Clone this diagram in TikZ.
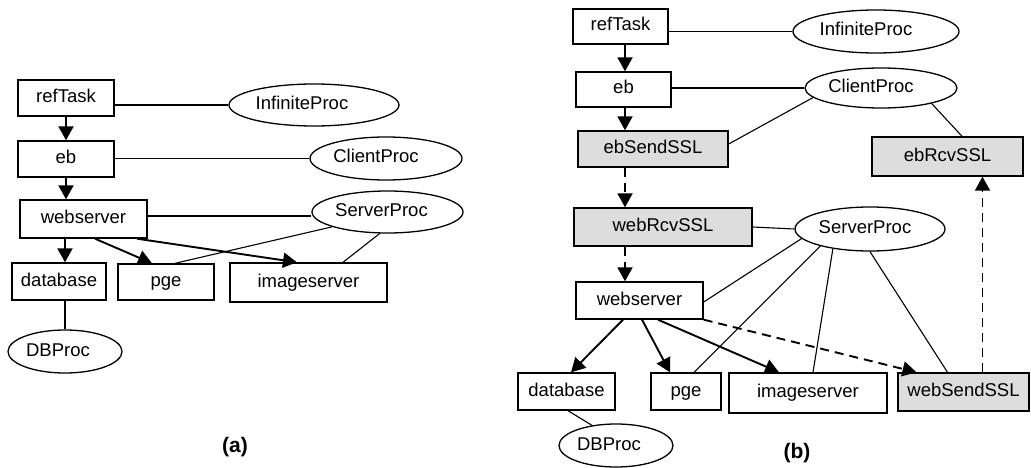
\documentclass[tikz,border=0pt]{standalone}
\usepackage{fontspec}
\setmainfont{Liberation Sans}
\usetikzlibrary{shapes.geometric,arrows.meta}
\definecolor{sslgray}{HTML}{DDDDDD}

\begin{document}
\begin{tikzpicture}[
  x=1pt, y=-1pt,
  label font/.style={font=\fontsize{18.5}{22}\selectfont, text height=13pt, text depth=4pt},
  taskbox/.style={draw, line width=1.4pt, inner sep=0pt, label font},
  sslbox/.style={taskbox, fill=sslgray},
  proc/.style={draw, ellipse, line width=1.3pt, inner sep=0pt, label font},
  link/.style={line width=1.1pt},
  flow/.style={line width=1.9pt, -{Triangle[length=14pt,width=15pt]}},
  sslflow/.style={flow, dash pattern=on 9pt off 6pt},
  caption/.style={font=\bfseries\fontsize{21}{24}\selectfont, inner sep=0pt}
]
\fill[white] (0,0) rectangle (1031,468);
\useasboundingbox (0,0) rectangle (1031,468);

% ---------- (a) plain layered model ----------
\node[taskbox, minimum width=96, minimum height=36] (refTaskA) at (66,98) {refTask};
\node[taskbox, minimum width=96, minimum height=36] (ebA) at (66,159) {eb};
\node[taskbox, minimum width=127, minimum height=38] (webA) at (83.5,219) {webserver};
\node[taskbox, minimum width=94, minimum height=37] (dbA) at (59,281.5) {database};
\node[taskbox, minimum width=96, minimum height=36] (pgeA) at (166,282) {pge};
\node[taskbox, minimum width=157, minimum height=39] (imgA) at (308.5,282.5) {imageserver};

\node[proc, minimum width=170, minimum height=42] (InfA) at (314,105) {InfiniteProc\hspace*{24pt}};
\node[proc, minimum width=152, minimum height=43] (CliA) at (386,158.5) {ClientProc\hspace*{20pt}};
\node[proc, minimum width=151, minimum height=42] (SrvA) at (387.5,212) {ServerProc\hspace*{12pt}};
\node[proc, minimum width=114, minimum height=43] (DBA) at (65,351.5) {DBProc\hspace*{14pt}};

\draw[link] (InfA.west) -- (InfA.west -| refTaskA.east);
\draw[link] (CliA.west) -- (CliA.west -| ebA.east);
\draw[link] ([yshift=-4pt]SrvA.west) -- ([yshift=-4pt]SrvA.west -| webA.east);
\draw[link] (SrvA.195) -- ([xshift=9pt]pgeA.north);
\draw[link] (SrvA.250) -- ([xshift=34.5pt]imgA.north);
\draw[link] (dbA.south -| DBA.north) -- (DBA.north);

\draw[flow] (refTaskA.south) -- (ebA.north);
\draw[flow] (ebA.south) -- (ebA.south |- webA.north);
\draw[flow] ([xshift=6pt]dbA.north |- webA.south) -- ([xshift=6pt]dbA.north);
\draw[flow] ([xshift=11.5pt]webA.south) -- ([xshift=-14pt]pgeA.north);
\draw[flow] ([xshift=53.5pt]webA.south) -- ([xshift=-11.5pt]imgA.north);

\node[caption] (capA) at (235,447) {(a)};

% ---------- (b) model with SSL tasks ----------
\node[taskbox, minimum width=95, minimum height=35] (refTaskB) at (620.5,26.5) {refTask};
\node[taskbox, minimum width=95, minimum height=35] (ebB) at (623.5,89.5) {eb};
\node[sslbox, minimum width=150, minimum height=36] (ebSendB) at (653,149) {ebSendSSL};
\node[sslbox, minimum width=178, minimum height=38] (webRcvB) at (663,227) {webRcvSSL};
\node[taskbox, minimum width=127, minimum height=37] (webB) at (639.5,300.5) {webserver};
\node[taskbox, minimum width=97, minimum height=37] (dbB) at (566.5,391.5) {database};
\node[taskbox, minimum width=70, minimum height=37] (pgeB) at (686,391.5) {pge};
\node[taskbox, minimum width=158, minimum height=40] (imgB) at (808,393) {imageserver};
\node[sslbox, minimum width=131, minimum height=38] (webSendB) at (963.5,392) {webSendSSL};
\node[sslbox, minimum width=151, minimum height=39] (ebRcvB) at (947.5,156.5) {ebRcvSSL};

\node[proc, minimum width=166, minimum height=43] (InfB) at (876,31.5) {InfiniteProc\hspace*{20pt}};
\node[proc, minimum width=152, minimum height=40] (CliB) at (881,88) {ClientProc\hspace*{20pt}};
\node[proc, minimum width=150, minimum height=44] (SrvB) at (870,229) {ServerProc\hspace*{10pt}};
\node[proc, minimum width=114, minimum height=43] (DBB) at (616,445.5) {DBProc\hspace*{14pt}};

\draw[link] (InfB.west) -- (InfB.west -| refTaskB.east);
\draw[link] (CliB.west) -- (CliB.west -| ebB.east);
\draw[link] ([yshift=5pt]ebSendB.east) -- (CliB.188);
\draw[link] (CliB.343) -- ([xshift=14.5pt]ebRcvB.north);
\draw[link] (webRcvB.east) -- (SrvB.west);
\draw[link] (SrvB.188) -- ([yshift=-1.5pt]webB.east);
\draw[link] (SrvB.199) -- ([xshift=8pt]pgeB.north);
\draw[link] (SrvB.208) -- ([xshift=5pt]imgB.north);
\draw[link] (SrvB.south) -- ([xshift=-16pt]webSendB.north);
\draw[link] ([xshift=1.5pt]dbB.south) -- (DBB.140);

\draw[flow] ([xshift=4.5pt]refTaskB.south) -- ([xshift=4.5pt]refTaskB.south |- ebB.north);
\draw[flow] ([xshift=1.5pt]ebB.south) -- ([xshift=1.5pt]ebB.south |- ebSendB.north);
\draw[sslflow] ([xshift=-28pt]ebSendB.south) -- ([xshift=-28pt]ebSendB.south |- webRcvB.north);
\draw[sslflow] ([xshift=-38pt]webRcvB.south) -- ([xshift=-38pt]webRcvB.south |- webB.north);
\draw[sslflow] ([xshift=19pt]webSendB.north) -- ([xshift=19pt]webSendB.north |- ebRcvB.south);
\draw[flow] ([xshift=-16.5pt]webB.south) -- ([xshift=4.5pt]dbB.north);
\draw[flow] ([xshift=2.5pt]webB.south) -- ([xshift=-16pt]pgeB.north);
\draw[flow] ([xshift=18.5pt]webB.south) -- ([xshift=-29pt]imgB.north);
\draw[sslflow] (webB.south east) -- ([xshift=-47pt]webSendB.north);

\node[caption] (capB) at (797,453) {(b)};
\end{tikzpicture}
\end{document}
